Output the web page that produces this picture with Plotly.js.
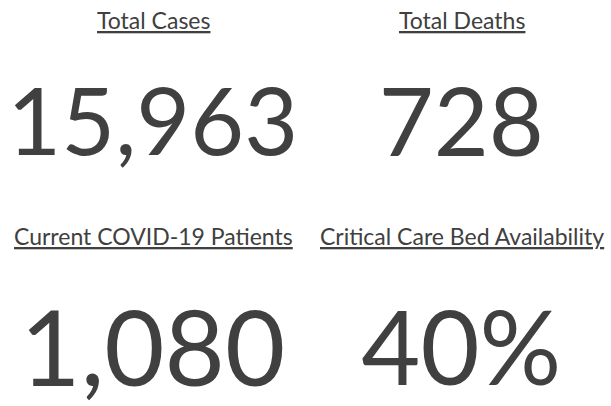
<!DOCTYPE html>
<html>
<head>
<meta charset="utf-8">
<script src="https://cdn.plot.ly/plotly-3.0.1.min.js"></script>
<style>html,body{margin:0;padding:0;background:#fff;}#chart{width:611px;height:406px;}</style>
</head>
<body>
<div id="chart"></div>
<script>
const titles = ["Total Cases", "Total Deaths", "Current COVID-19 Patients", "Critical Care Bed Availability"];
const values = [15963, 728, 1080, 40];
const suffixes = ["", "", "", "%"];
const numberSizes = [93, 95, 104, 102];

const H = 406;
const colX = [0.252, 0.756];
const titleRowY = [1 - 20.5 / H, 1 - 236 / H];
const domains = [
  {x: [0, 0.5], y: [0.55, 0.866]},
  {x: [0.51, 1], y: [0.55, 0.866]},
  {x: [0, 0.5], y: [0.0074, 0.2904]},
  {x: [0.51, 1], y: [0.0074, 0.2904]}
];

const ink = "#404040";
const data = values.map((v, i) => ({
  type: "indicator",
  mode: "number",
  value: v,
  domain: domains[i],
  number: {valueformat: ",d", suffix: suffixes[i], font: {family: "Lato, sans-serif", size: numberSizes[i], color: ink}}
}));

const annotations = titles.map((t, i) => ({
  text: "<u>" + t + "</u>",
  xref: "paper", yref: "paper",
  x: colX[i % 2], y: titleRowY[Math.floor(i / 2)],
  xanchor: "center", yanchor: "middle",
  showarrow: false,
  font: {family: "Lato, sans-serif", size: 23, color: ink}
}));

const layout = {
  width: 611, height: 406,
  margin: {l: 0, r: 0, t: 0, b: 0},
  paper_bgcolor: "#ffffff",
  showlegend: false,
  annotations: annotations
};
Plotly.newPlot("chart", data, layout, {displayModeBar: false, staticPlot: true});
</script>
</body>
</html>
